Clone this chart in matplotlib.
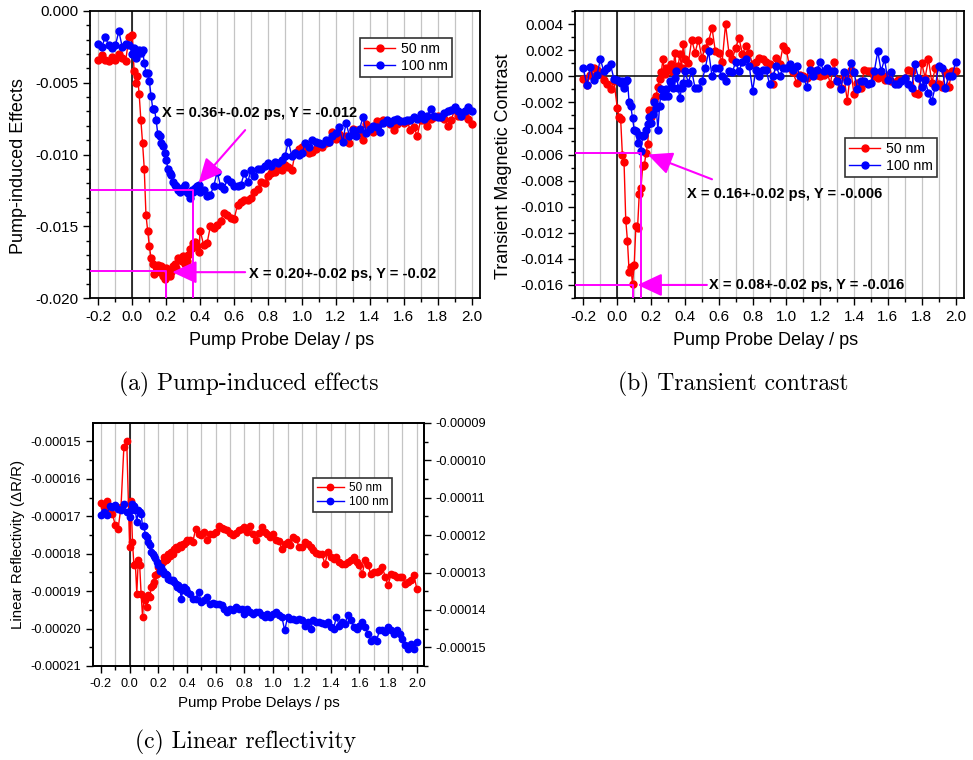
import numpy as np
import matplotlib
matplotlib.use('Agg')
import matplotlib.pyplot as plt
from matplotlib.ticker import MultipleLocator, FuncFormatter

plt.rcParams['font.family'] = ['Liberation Sans', 'DejaVu Sans']
plt.rcParams['axes.unicode_minus'] = False

# ---------------- data ----------------
# pump-probe delays (ps): coarse before t0, fine around t0, coarse afterwards
delay = np.round(np.concatenate([np.arange(-0.20, -0.01, 0.02),
                                 np.arange(0.00, 0.405, 0.01),
                                 np.arange(0.42, 2.005, 0.02)]), 2)

# (a) pump-induced effects, units of 1e-3
a_red = [-3.4, -3.1, -3.4, -3.5, -3.2, -3.4, -3.0, -3.3, -3.5, -1.8,
         -1.7, -4.2, -5.0, -4.5, -5.8, -7.6, -9.2, -11.0, -14.2, -15.3,
         -16.4, -17.2, -17.6, -18.3, -17.8, -17.7, -18.2, -17.8, -18.5, -18.7,
         -17.9, -18.4, -18.5, -18.2, -17.8, -17.6, -17.9, -17.2, -17.3, -17.4,
         -17.1, -17.6, -17.4, -17.0, -16.6, -16.5, -16.2, -16.1, -16.4, -16.8,
         -15.3,
         -16.3, -16.2, -15.0, -15.1, -14.9, -14.6, -14.1, -14.2, -14.4, -14.5,
         -13.5, -13.3, -13.2, -13.2, -13.0, -12.6, -12.4, -11.9, -12.0, -11.5,
         -11.3, -11.2, -11.0, -11.1, -10.7, -10.9, -11.1, -9.9, -9.6, -9.5,
         -9.7, -9.9, -9.8, -9.6, -9.4, -9.5, -9.2, -9.1, -8.4, -8.9,
         -8.6, -8.8, -8.7, -9.2, -8.2, -8.3, -8.5, -9.0, -7.9, -8.3,
         -8.4, -7.7, -7.8, -7.6, -7.7, -7.9, -8.3, -7.9, -7.7, -7.8,
         -7.7, -8.3, -8.1, -8.7, -7.6, -7.6, -8.0, -7.5, -7.4, -7.3,
         -7.4, -7.5, -8.0, -7.6, -6.9, -7.3, -7.3, -7.2, -7.5, -7.9]
a_blue = [-2.3, -2.5, -1.8, -2.4, -2.6, -2.4, -1.4, -2.5, -2.3, -2.4,
          -3.0, -2.6, -3.3, -3.0, -2.7, -2.9, -2.7, -3.6, -4.3, -4.3,
          -4.9, -5.9, -6.8, -6.8, -7.6, -8.6, -8.7, -9.2, -9.4, -9.9,
          -10.4, -11.0, -11.3, -11.4, -11.9, -12.1, -12.2, -12.5, -12.6, -12.3,
          -12.4, -12.1, -12.6, -12.7, -13.0, -12.5, -12.6, -12.3, -12.2, -12.1,
          -12.6,
          -12.5, -12.9, -12.8, -12.2, -11.2, -12.2, -12.4, -11.7, -11.9, -12.2,
          -12.2, -12.1, -11.3, -11.9, -11.1, -11.5, -11.0, -11.0, -10.8, -10.6,
          -10.8, -10.5, -10.6, -10.4, -10.1, -9.1, -10.1, -9.9, -10.0, -9.9,
          -9.2, -9.5, -9.0, -9.1, -9.2, -9.3, -9.0, -9.1, -8.7, -8.5,
          -8.1, -9.1, -7.8, -8.7, -8.3, -8.7, -8.2, -7.4, -8.5, -8.2,
          -8.0, -8.1, -8.4, -7.8, -7.6, -7.8, -7.6, -7.5, -7.7, -7.7,
          -7.6, -7.6, -7.4, -7.5, -7.2, -7.5, -7.3, -6.8, -7.3, -7.4,
          -7.4, -7.1, -7.0, -6.9, -6.7, -7.0, -7.3, -7.0, -6.7, -7.0]

# (b) transient magnetic contrast, units of 1e-3
b_red = [-0.2, -0.7, 0.1, 0.6, 0.5, 0.2, -0.3, -0.6, -1.0, -0.4,
         -2.4, -3.1, -3.3, -6.0, -6.6, -11.0, -12.6, -15.0, -14.6, -15.9,
         -14.5, -11.5, -11.6, -9.0, -8.6, -6.9, -6.8, -5.9, -5.2, -2.6,
         -3.1, -2.6, -1.8, -1.5, -0.8, -0.2, 0.3, 1.3, 0.2, 0.6,
         0.5, 0.6, 0.9, 0.3, 1.8, 0.5, 0.8, 1.7, 0.6, 2.5,
         1.3,
         1.0, 2.8, 1.8, 2.8, 1.4, 2.2, 2.7, 3.7, 1.9, 1.8,
         1.1, 4.0, 1.8, 1.3, 2.2, 2.9, 1.7, 2.3, 1.8, 0.9,
         1.1, 1.4, 1.3, 1.1, 0.9, -0.6, 1.4, 0.9, 2.3, 2.0,
         0.6, 0.3, -0.5, 0.1, 0.0, -0.1, 1.0, 0.4, 0.1, 0.0,
         0.1, 0.4, -0.6, 1.1, -0.3, -0.9, 0.0, -1.9, 0.5, -1.4,
         -0.5, -0.9, 0.5, 0.4, 0.4, 0.0, -0.1, 0.0, -0.3, 0.1,
         -0.4, -0.5, -0.3, -0.3, -0.1, 0.5, 0.4, -1.3, -1.4, 1.0,
         -0.1, 1.3, -0.5, 0.6, -0.6, -0.8, 0.3, -0.8, 0.4, 0.4]
b_blue = [0.6, -0.7, 0.7, -0.3, 0.1, 1.3, 0.4, 0.6, 0.9, -0.2,
          -0.3, -0.4, -0.5, -0.4, -0.9, -0.4, -0.3, -2.0, -2.3, -3.2,
          -4.1, -4.2, -5.1, -4.5, -5.7, -4.6, -4.5, -4.1, -3.7, -3.1,
          -3.6, -2.9, -2.0, -2.4, -4.1, -2.3, -1.0, -1.5, -1.5, -1.0,
          -1.5, -0.4, -0.5, -0.9, -0.1, 0.4, -0.9, -1.7, -0.9, -0.5,
          0.4,
          -0.5, 0.4, -0.9, -0.9, -0.4, 0.6, 1.9, 0.0, 0.6, 0.6,
          0.0, -0.4, 0.4, 0.3, 1.1, 0.4, 1.1, 1.3, 0.8, -1.1,
          0.5, 0.0, 0.5, 0.5, -0.6, 0.0, 0.8, 0.0, 0.6, 0.6,
          0.9, 0.5, 0.8, 0.0, -0.1, -0.8, 0.5, 0.0, 0.5, 1.1,
          0.4, 0.6, 0.4, 0.4, -0.4, -1.0, 0.3, -0.4, 1.0, 0.3,
          -1.0, -0.4, -0.4, -0.6, -0.5, 0.4, 1.9, 0.4, 1.3, -0.3,
          0.3, -0.6, -0.6, -0.4, -0.1, -0.6, -0.9, 0.9, -0.1, -0.8,
          -0.3, -1.3, -1.9, -0.8, 0.8, 0.6, -0.9, 0.0, 0.0, 1.1]

# (c) linear reflectivity dR/R, units of 1e-6
c_red = [-166.4, -167.5, -165.8, -168.6, -169.3, -172.4, -173.3, -167.5, -151.5, -150.0,
         -178.2, -165.8, -176.9, -183.1, -182.7, -190.7, -181.8, -183.1, -190.7, -196.8,
         -191.6, -192.5, -194.3, -191.1, -191.6, -188.9, -188.5, -187.6, -185.8, -185.4,
         -183.6, -184.0, -182.7, -182.2, -180.9, -181.8, -181.3, -180.0, -180.5, -179.6,
         -180.0, -178.7, -178.2, -178.7, -178.2, -177.8, -178.2, -177.3, -177.3, -176.9,
         -176.4,
         -176.4, -176.9, -173.3, -174.7, -175.1, -174.2, -176.4, -174.7, -174.7, -174.2,
         -172.7, -173.1, -173.3, -173.8, -174.5, -175.1, -174.5, -173.8, -173.3, -172.9,
         -174.2, -172.7, -174.7, -176.4, -174.5, -172.9, -174.2, -174.7, -175.6, -174.7,
         -176.4, -176.6, -178.7, -177.3, -176.9, -177.8, -175.6, -176.0, -178.2, -178.2,
         -176.9, -177.3, -178.2, -179.1, -179.8, -180.0, -180.2, -182.7, -179.6, -180.9,
         -181.3, -180.9, -182.2, -182.7, -182.7, -182.2, -181.8, -180.9, -182.2, -183.1,
         -185.4, -181.8, -183.1, -185.4, -184.9, -184.9, -184.5, -183.6, -186.2, -188.5,
         -185.4, -185.8, -186.2, -186.2, -186.2, -188.0, -187.6, -187.1, -185.8, -189.4]
c_blue = [-169.8, -168.9, -169.8, -167.4, -167.5, -166.9, -168.0, -168.4, -166.7, -168.9,
          -170.2, -168.4, -166.7, -167.4, -168.4, -171.5, -168.4, -168.9, -169.3, -172.7,
          -172.7, -175.1, -175.6, -176.9, -177.8, -179.6, -180.0, -180.7, -181.1, -182.2,
          -183.1, -184.5, -183.6, -184.5, -185.4, -185.5, -185.8, -186.7, -187.0, -187.1,
          -187.1, -187.6, -188.0, -188.9, -188.5, -189.4, -192.0, -189.8, -188.9, -189.4,
          -190.2,
          -190.7, -192.0, -192.0, -190.2, -192.9, -192.5, -191.6, -193.4, -193.2, -193.5,
          -193.5, -193.8, -194.7, -195.6, -194.7, -195.1, -194.3, -194.7, -194.7, -196.0,
          -194.7, -195.6, -196.0, -195.6, -195.6, -196.5, -196.9, -196.0, -196.9, -196.0,
          -195.6, -196.5, -196.9, -200.5, -196.9, -197.4, -197.4, -197.8, -197.4, -197.8,
          -199.2, -198.3, -200.0, -197.8, -198.3, -198.3, -198.5, -198.7, -198.3, -199.6,
          -200.0, -196.9, -199.2, -198.3, -198.7, -196.5, -197.8, -199.6, -200.0, -199.2,
          -198.3, -199.6, -201.4, -203.2, -202.7, -203.2, -200.5, -200.5, -200.9, -199.6,
          -200.5, -201.4, -200.5, -201.4, -202.7, -204.5, -205.4, -204.1, -205.4, -203.6]

series_labels = ['50 nm', '100 nm']
captions = ['(a) Pump-induced effects', '(b) Transient contrast', '(c) Linear reflectivity']
annot_a = ['X = 0.36+-0.02 ps, Y = -0.012', 'X = 0.20+-0.02 ps, Y = -0.02']
annot_b = ['X = 0.16+-0.02 ps, Y = -0.006', 'X = 0.08+-0.02 ps, Y = -0.016']

# ---------------- figure ----------------
W, H = 973, 760
fig = plt.figure(figsize=(W / 100, H / 100), dpi=100)

def box(l, t, r, b):
    return [l / W, 1 - b / H, (r - l) / W, (b - t) / H]

ax_a = fig.add_axes(box(90, 11, 480, 298))
ax_b = fig.add_axes(box(575, 11, 964, 298))
ax_c = fig.add_axes(box(93, 423, 424, 666))

RED, BLUE, MAG = '#ff0000', '#0000ff', '#ff00ff'

def plot_pair(ax, yr, yb, scale, ms=5):
    l1, = ax.plot(delay, np.array(yr) * scale, '-o', color=RED, lw=1.0, ms=ms,
                  label=series_labels[0], zorder=3)
    l2, = ax.plot(delay, np.array(yb) * scale, '-o', color=BLUE, lw=1.0, ms=ms,
                  label=series_labels[1], zorder=3)
    return l1, l2

def common_style(ax, fs):
    ax.set_xlim(-0.25, 2.05)
    ax.xaxis.set_major_locator(MultipleLocator(0.2))
    ax.xaxis.set_minor_locator(MultipleLocator(0.1))
    ax.xaxis.set_major_formatter(FuncFormatter(lambda v, p: '%.1f' % v))
    ax.set_axisbelow(True)
    ax.grid(axis='x', which='both', color='#c4c4c4', lw=0.9)
    ax.axvline(0, color='black', lw=1.1, zorder=2)
    ax.tick_params(which='both', direction='out', top=False, right=False,
                   labelsize=fs, width=1.0)
    ax.tick_params(which='major', length=5)
    ax.tick_params(which='minor', length=3)
    for s in ax.spines.values():
        s.set_linewidth(1.3)

def legend(ax, anchor, fs, hl):
    lg = ax.legend(loc='upper right', bbox_to_anchor=anchor, fontsize=fs,
                   fancybox=False, framealpha=1, edgecolor='#333333',
                   handlelength=hl, borderpad=0.3, labelspacing=0.2,
                   handletextpad=0.4, borderaxespad=0)
    lg.get_frame().set_linewidth(1.2)

# ----- (a) -----
plot_pair(ax_a, a_red, a_blue, 1e-3)
common_style(ax_a, 11)
ax_a.set_ylim(-0.020, 0.000)
ax_a.yaxis.set_major_locator(MultipleLocator(0.005))
ax_a.yaxis.set_minor_locator(MultipleLocator(0.001))
ax_a.yaxis.set_major_formatter(FuncFormatter(lambda v, p: '%.3f' % v))
ax_a.set_ylabel('Pump-induced Effects', fontsize=13)
ax_a.yaxis.set_label_coords(-0.162, 0.46)
ax_a.set_xlabel('Pump Probe Delay / ps', fontsize=13)
ax_a.xaxis.set_label_coords(0.49, -0.12)
legend(ax_a, (0.928, 0.906), 10.2, 2.2)
# drop lines
ax_a.plot([-0.25, 0.36, 0.36], [-0.0125, -0.0125, -0.020], color=MAG, lw=1.4, zorder=4)
ax_a.plot([-0.25, 0.20, 0.20], [-0.0181, -0.0181, -0.020], color=MAG, lw=1.4, zorder=4)
arrow = dict(arrowstyle='-|>,head_length=0.75,head_width=0.35', color=MAG, lw=1.5,
             mutation_scale=20, shrinkA=0, shrinkB=0)
ax_a.annotate('', xy=(0.39, -0.0120), xytext=(0.665, -0.0083), arrowprops=arrow, zorder=5)
ax_a.annotate('', xy=(0.235, -0.0182), xytext=(0.665, -0.0182), arrowprops=arrow, zorder=5)
ax_a.text(0.172, -0.0071, annot_a[0], fontsize=10.5, fontweight='bold', va='center', ha='left', zorder=6)
ax_a.text(0.686, -0.0183, annot_a[1], fontsize=10.5, fontweight='bold', va='center', ha='left', zorder=6)

# ----- (b) -----
plot_pair(ax_b, b_red, b_blue, 1e-3)
common_style(ax_b, 11)
ax_b.axhline(0, color='black', lw=1.1, zorder=2)
ax_b.set_ylim(-0.0170, 0.0050)
ax_b.yaxis.set_major_locator(MultipleLocator(0.002))
ax_b.yaxis.set_minor_locator(MultipleLocator(0.001))
ax_b.yaxis.set_major_formatter(FuncFormatter(lambda v, p: '%.3f' % (0.0 if abs(v) < 1e-9 else v)))
ax_b.set_ylabel('Transient Magnetic Contrast', fontsize=13)
ax_b.yaxis.set_label_coords(-0.162, 0.46)
ax_b.set_xlabel('Pump Probe Delay / ps', fontsize=13)
ax_b.xaxis.set_label_coords(0.49, -0.12)
legend(ax_b, (0.931, 0.5575), 10.2, 2.2)
ax_b.plot([-0.25, 0.14, 0.14], [-0.0059, -0.0059, -0.0170], color=MAG, lw=1.4, zorder=4)
ax_b.plot([-0.25, 0.09, 0.09], [-0.0160, -0.0160, -0.0170], color=MAG, lw=1.4, zorder=4)
ax_b.annotate('', xy=(0.18, -0.0060), xytext=(0.56, -0.0079), arrowprops=arrow, zorder=5)
ax_b.annotate('', xy=(0.12, -0.0160), xytext=(0.53, -0.0160), arrowprops=arrow, zorder=5)
ax_b.text(0.41, -0.0090, annot_b[0], fontsize=10.5, fontweight='bold', va='center', ha='left', zorder=6)
ax_b.text(0.54, -0.0160, annot_b[1], fontsize=10.5, fontweight='bold', va='center', ha='left', zorder=6)

# ----- (c) -----
plot_pair(ax_c, c_red, c_blue, 1e-6, ms=4.6)
common_style(ax_c, 9.2)
ax_c.set_xlim(-0.255, 2.05)
ax_c.set_ylim(-0.000210, -0.0001451)
ax_c.yaxis.set_major_locator(MultipleLocator(1e-5))
ax_c.yaxis.set_minor_locator(MultipleLocator(5e-6))
ax_c.yaxis.set_major_formatter(FuncFormatter(lambda v, p: '%.5f' % v))
ax_c.set_ylabel('Linear Reflectivity (\u0394R/R)', fontsize=10.8)
ax_c.yaxis.set_label_coords(-0.205, 0.5)
ax_c.set_xlabel('Pump Probe Delays / ps', fontsize=10.8)
ax_c.xaxis.set_label_coords(0.5, -0.125)
legend(ax_c, (0.903, 0.772), 8.5, 2.3)
tw = ax_c.twinx()
tw.set_ylim(-0.000155, -0.0000900)
tw.yaxis.set_major_locator(MultipleLocator(1e-5))
tw.yaxis.set_minor_locator(MultipleLocator(5e-6))
tw.yaxis.set_major_formatter(FuncFormatter(lambda v, p: '%.5f' % v))
tw.tick_params(which='both', direction='out', labelsize=9.2, width=1.0)
tw.tick_params(which='major', length=5)
tw.tick_params(which='minor', length=3)
for s in tw.spines.values():
    s.set_linewidth(1.3)

# ----- captions -----
cap_kw = dict(fontsize=17, family='cmr10', ha='center', va='center')
fig.text(249 / W, 1 - 384 / H, captions[0], **cap_kw)
fig.text(733 / W, 1 - 384 / H, captions[1], **cap_kw)
fig.text(246 / W, 1 - 742 / H, captions[2], **cap_kw)

fig.savefig('out.png', dpi=100)
